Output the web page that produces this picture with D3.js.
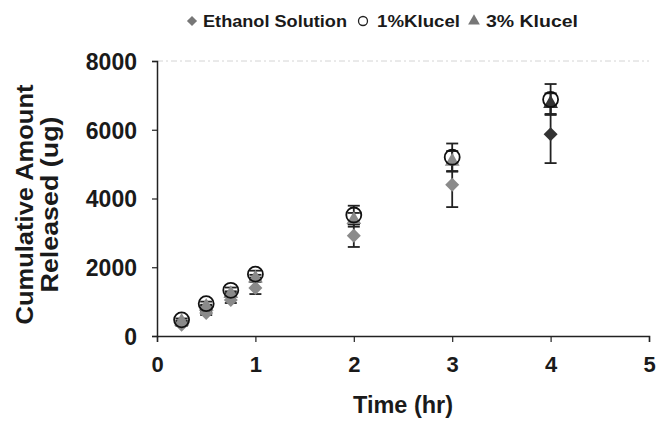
<!DOCTYPE html>
<html>
<head>
<meta charset="utf-8">
<script src="https://cdn.jsdelivr.net/npm/d3@7"></script>
<style>
  body { margin: 0; background: #fff; }
  text { font-family: "Liberation Sans", Arial, sans-serif; font-weight: bold; fill: #1a1a1a; }
</style>
</head>
<body>
<div class="canva"></div>
<script>
// data
const times = [0.25, 0.5, 0.75, 1, 2, 3, 4];
const ethanol = [330, 670, 1050, 1400, 2920, 4400, 5870];
const ethanolErr = [40, 60, 90, 180, 330, 650, 840];
const klucel1 = [470, 940, 1330, 1800, 3520, 5200, 6880];
const klucel1Err = [40, 60, 80, 100, 270, 400, 450];
const klucel3 = [420, 860, 1230, 1680, 3380, 5080, 6760];
const klucel3Err = [30, 50, 70, 100, 200, 300, 300];
const xTicks = [0, 1, 2, 3, 4, 5];
const yTicks = [0, 2000, 4000, 6000, 8000];

const W = 656, H = 424;
const svg = d3.select('.canva').append('svg')
    .attr('width', W)
    .attr('height', H);

const x = d3.scaleLinear().domain([0, 5]).range([157, 649]);
const y = d3.scaleLinear().domain([0, 8000]).range([336, 61]);

const grey = '#8a8a8a';
const dark = '#333';
const diamondType = d3.symbolDiamond2 || d3.symbolDiamond;

// faint top border of plot area
svg.append('line')
  .attr('x1', x(0)).attr('x2', x(5))
  .attr('y1', y(8000)).attr('y2', y(8000))
  .attr('stroke', '#d4d4d4')
  .attr('stroke-width', 1)
  .attr('stroke-dasharray', '6,3,2,3');

// axes
const xAxis = svg.append('g')
  .attr('transform', `translate(0,${y(0)})`)
  .call(d3.axisBottom(x).tickValues(xTicks).tickSize(6).tickPadding(14).tickFormat(d3.format('d')));
const yAxis = svg.append('g')
  .attr('transform', `translate(${x(0)},0)`)
  .call(d3.axisLeft(y).tickValues(yTicks).tickSize(5).tickPadding(15).tickFormat(d3.format('d')));

[xAxis, yAxis].forEach(a => {
  a.select('.domain').attr('stroke', '#222').attr('stroke-width', 1.5);
  a.selectAll('.tick line').attr('stroke', '#222').attr('stroke-width', 1.2);
  a.selectAll('.tick text')
    .attr('fill', '#1a1a1a')
    .style('font-family', '"Liberation Sans", Arial, sans-serif')
    .style('font-weight', 'bold')
    .style('font-size', '23px');
});
yAxis.selectAll('.tick text').attr('dy', '0.36em');
xAxis.selectAll('.tick text').style('font-size', '22px');

// axis titles
svg.append('text')
  .attr('x', (x(0) + x(5)) / 2)
  .attr('y', 413)
  .attr('text-anchor', 'middle')
  .attr('textLength', 100)
  .attr('lengthAdjust', 'spacingAndGlyphs')
  .style('font-size', '23px')
  .text('Time (hr)');

const ty = (y(0) + y(8000)) / 2 + 6;
svg.append('text')
  .attr('transform', `translate(33,${ty}) rotate(-90)`)
  .attr('text-anchor', 'middle')
  .attr('textLength', 240)
  .attr('lengthAdjust', 'spacingAndGlyphs')
  .style('font-size', '23px')
  .text('Cumulative Amount');
svg.append('text')
  .attr('transform', `translate(58,${ty}) rotate(-90)`)
  .attr('text-anchor', 'middle')
  .attr('textLength', 176)
  .attr('lengthAdjust', 'spacingAndGlyphs')
  .style('font-size', '23px')
  .text('Released (ug)');

// series
const series = [
  { name: 'Ethanol Solution', values: ethanol, err: ethanolErr, shape: 'diamond' },
  { name: '3% Klucel', values: klucel3, err: klucel3Err, shape: 'triangle' },
  { name: '1%Klucel', values: klucel1, err: klucel1Err, shape: 'circle' }
];

function rows(s) {
  return times.map((t, i) => ({ t, v: s.values[i], e: s.err[i], last: i === times.length - 1 }));
}

const symDiamond = d3.symbol().type(diamondType).size(125);
const symTriangle = d3.symbol().type(d3.symbolTriangle).size(95);

function drawMarker(g, shape, fillFn) {
  if (shape === 'circle') {
    g.append('circle').attr('r', 7.5)
      .attr('fill', 'none').attr('stroke', '#111').attr('stroke-width', 1.8);
  } else {
    g.append('path')
      .attr('d', shape === 'diamond' ? symDiamond() : symTriangle())
      .attr('fill', fillFn);
  }
}

// error bars
series.forEach(s => {
  const eb = svg.append('g').selectAll('g').data(rows(s)).join('g');
  eb.append('line')
    .attr('x1', d => x(d.t)).attr('x2', d => x(d.t))
    .attr('y1', d => y(d.v - d.e)).attr('y2', d => y(d.v + d.e))
    .attr('stroke', '#222').attr('stroke-width', 1.8);
  eb.selectAll('line.cap').data(d => [[d.t, d.v - d.e], [d.t, d.v + d.e]]).join('line')
    .attr('class', 'cap')
    .attr('x1', d => x(d[0]) - 6).attr('x2', d => x(d[0]) + 6)
    .attr('y1', d => y(d[1])).attr('y2', d => y(d[1]))
    .attr('stroke', '#222').attr('stroke-width', 1.8);
});

// markers
series.forEach(s => {
  const m = svg.append('g').selectAll('g').data(rows(s)).join('g')
    .attr('transform', d => `translate(${x(d.t)},${y(d.v)})`);
  m.each(function(d) {
    drawMarker(d3.select(this), s.shape, d.last ? dark : grey);
  });
});

// legend
const legend = [
  { name: 'Ethanol Solution', shape: 'diamond', mx: 192, tx: 203, w: 144 },
  { name: '1%Klucel', shape: 'circle', mx: 363, tx: 377, w: 83 },
  { name: '3% Klucel', shape: 'triangle', mx: 474, tx: 486, w: 92 }
];
legend.forEach(l => {
  const g = svg.append('g').attr('transform', `translate(${l.mx},21)`);
  if (l.shape === 'circle') {
    g.append('circle').attr('r', 4.5).attr('fill', 'none').attr('stroke', '#222').attr('stroke-width', 1.3);
  } else {
    g.append('path')
      .attr('d', d3.symbol().type(l.shape === 'diamond' ? diamondType : d3.symbolTriangle).size(l.shape === 'diamond' ? 65 : 60)())
      .attr('fill', '#777');
  }
  svg.append('text')
    .attr('x', l.tx).attr('y', 27)
    .attr('textLength', l.w)
    .attr('lengthAdjust', 'spacingAndGlyphs')
    .style('font-size', '17px')
    .text(l.name);
});
</script>
</body>
</html>
